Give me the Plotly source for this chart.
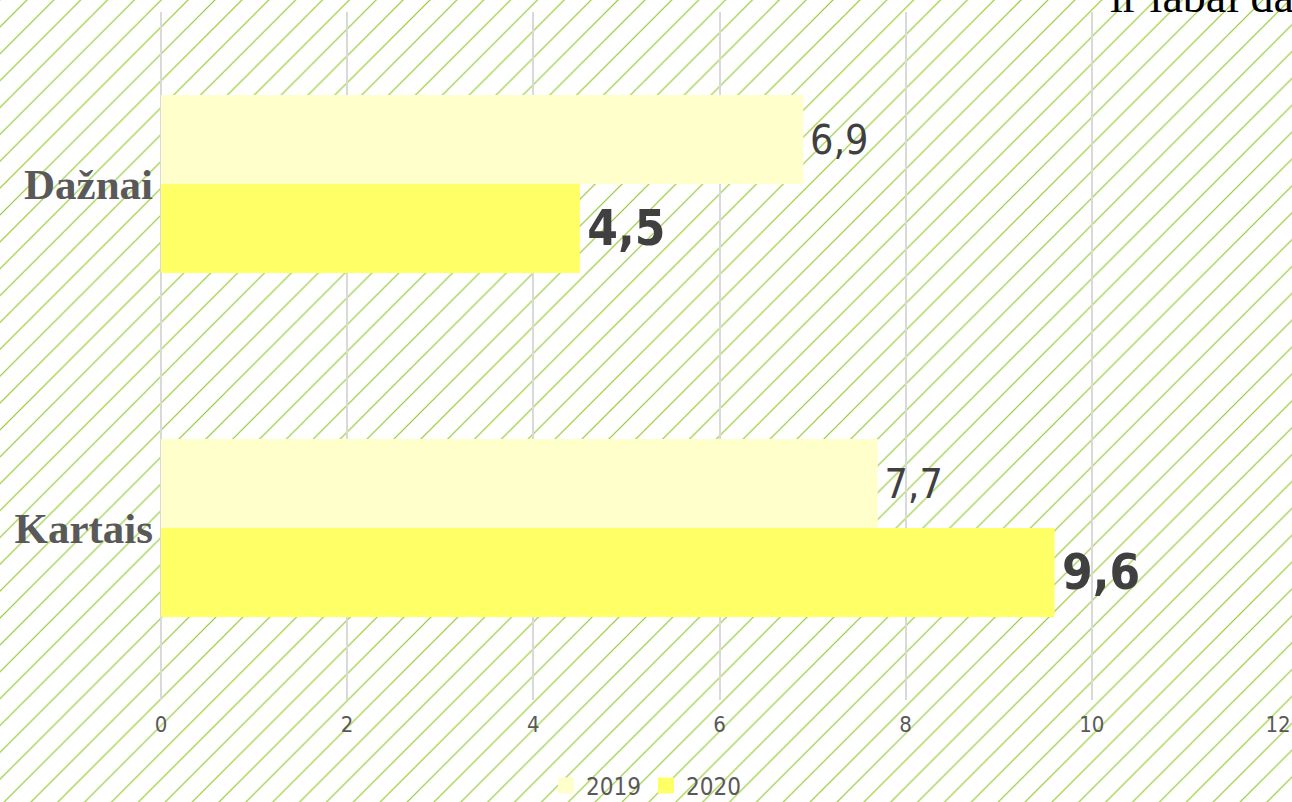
import plotly.graph_objects as go

categories = ["Dažnai", "Kartais"]
values_2019 = [6.9, 7.7]
values_2020 = [4.5, 9.6]
series_names = ["2019", "2020"]
series_colors = ["#FFFFCC", "#FFFF66"]
x_ticks = [0, 2, 4, 6, 8, 10, 12]

W, H = 1292, 802
left, right, top, bottom = 161, 1278, 12, 700

fig = go.Figure()

# hatched background covering the whole canvas
fig.add_trace(go.Bar(
    x=[0.5], y=[1], width=[1], xaxis="x", yaxis="y",
    marker=dict(color="white", line=dict(width=0),
                pattern=dict(shape="/", size=19, solidity=0.06,
                             fgcolor="#92C82A", bgcolor="white", fgopacity=1)),
    hoverinfo="skip", showlegend=False,
))

fig.add_trace(go.Bar(
    name=series_names[0], y=categories, x=values_2019, orientation="h",
    xaxis="x2", yaxis="y2",
    marker=dict(color=series_colors[0], line=dict(width=0)),
    texttemplate="\u200a%{x:.1f}", textposition="outside", cliponaxis=False,
    constraintext="none", showlegend=False,
    textfont=dict(family="DejaVu Sans Condensed", size=41, color="#404040"),
))
fig.add_trace(go.Bar(
    name=series_names[1], y=categories, x=values_2020, orientation="h",
    xaxis="x2", yaxis="y2",
    marker=dict(color=series_colors[1], line=dict(width=0)),
    texttemplate="\u200a%{x:.1f}", textposition="outside", cliponaxis=False,
    constraintext="none", showlegend=False,
    textfont=dict(family="DejaVu Sans Condensed", size=49, color="#404040", weight="bold"),
))

# legend entries with larger square swatches
for name, color in zip(series_names, series_colors):
    fig.add_trace(go.Scatter(
        x=[None], y=[None], mode="markers", name=name,
        xaxis="x2", yaxis="y2",
        marker=dict(symbol="square", size=16, color=color, line=dict(width=0)),
        hoverinfo="skip",
    ))

fig.update_layout(
    width=W, height=H,
    margin=dict(l=0, r=0, t=0, b=0, autoexpand=False),
    paper_bgcolor="white",
    plot_bgcolor="rgba(0,0,0,0)",
    separators=",.",
    barmode="group",
    bargap=0.4826,
    bargroupgap=0,
    showlegend=True,
    xaxis=dict(domain=[0, 1], range=[0, 1], visible=False, fixedrange=True),
    yaxis=dict(domain=[0, 1], range=[0, 1], visible=False, fixedrange=True),
    xaxis2=dict(
        domain=[left / W, right / W], anchor="y2", range=[0, 12],
        tickvals=x_ticks, ticktext=[str(t) for t in x_ticks],
        showgrid=True, gridcolor="#D9D9D9", gridwidth=2,
        zeroline=True, zerolinecolor="#D9D9D9", zerolinewidth=2,
        showline=False, ticks="", ticklabelstandoff=9,
        tickfont=dict(family="DejaVu Sans Condensed", size=22, color="#595959"),
        automargin=False,
    ),
    yaxis2=dict(
        domain=[1 - bottom / H, 1 - top / H], anchor="x2",
        type="category", categoryorder="array", categoryarray=categories,
        range=[1.5, -0.5], showgrid=False, zeroline=False, showline=False, ticks="",
        ticklabelstandoff=7,
        tickfont=dict(family="Liberation Serif", size=43, color="#595959", weight="bold"),
        automargin=False,
    ),
    legend=dict(
        orientation="h", x=0.5, xanchor="center", y=1 - 786 / H, yanchor="middle",
        bgcolor="rgba(0,0,0,0)", itemsizing="trace",
        font=dict(family="DejaVu Sans Condensed", size=24, color="#595959"),
    ),
    annotations=[dict(
        text="ir labai dažnai", xref="paper", yref="paper",
        x=1108 / W, y=1 - 24 / H, xanchor="left", yanchor="bottom",
        showarrow=False,
        font=dict(family="Liberation Serif", size=46, color="black"),
    )],
)

fig.write_html(
    "out.html",
    config={"displayModeBar": False},
    post_script="document.body.style.margin='0';document.body.style.overflow='hidden';",
)
